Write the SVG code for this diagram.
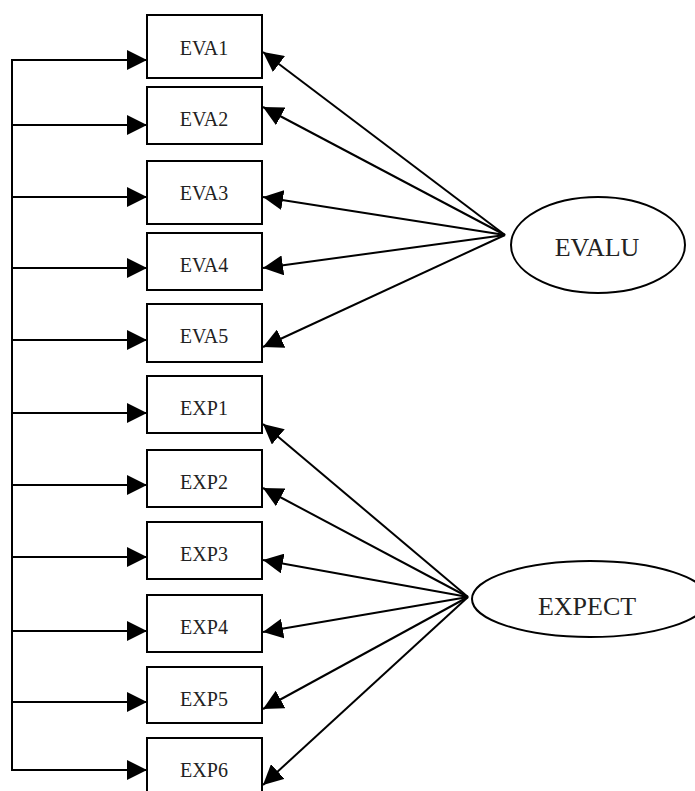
<svg xmlns="http://www.w3.org/2000/svg" width="695" height="791" viewBox="0 0 695 791">
  <style>
    .box { fill: #ffffff; stroke: #000000; stroke-width: 2; }
    .lat { fill: #ffffff; stroke: #000000; stroke-width: 2; }
    .lbl { font-family: "Liberation Serif", "DejaVu Serif", serif; font-size: 20px; fill: #222222; text-anchor: middle; }
    .big { font-family: "Liberation Serif", "DejaVu Serif", serif; font-size: 26px; fill: #222222; text-anchor: middle; }
    .edge { fill: none; stroke: #000000; stroke-width: 2; }
  </style>
  <defs>
    <marker id="arrow" markerUnits="userSpaceOnUse" markerWidth="20" markerHeight="20" refX="20" refY="10" orient="auto">
      <path d="M0,0 L20,10 L0,20 z" fill="#000000"/>
    </marker>
  </defs>
  <rect width="695" height="791" fill="#ffffff"/>

  <!-- connectors -->
  <g id="connectors">
    <!-- error spine on the left -->
    <line class="edge" x1="12" y1="59" x2="12" y2="771"/>
    <line class="edge" x1="12" y1="60" x2="147" y2="60" marker-end="url(#arrow)"/>
    <line class="edge" x1="12" y1="125" x2="147" y2="125" marker-end="url(#arrow)"/>
    <line class="edge" x1="12" y1="197" x2="147" y2="197" marker-end="url(#arrow)"/>
    <line class="edge" x1="12" y1="268" x2="147" y2="268" marker-end="url(#arrow)"/>
    <line class="edge" x1="12" y1="340" x2="147" y2="340" marker-end="url(#arrow)"/>
    <line class="edge" x1="12" y1="413" x2="147" y2="413" marker-end="url(#arrow)"/>
    <line class="edge" x1="12" y1="485" x2="147" y2="485" marker-end="url(#arrow)"/>
    <line class="edge" x1="12" y1="557" x2="147" y2="557" marker-end="url(#arrow)"/>
    <line class="edge" x1="12" y1="631" x2="147" y2="631" marker-end="url(#arrow)"/>
    <line class="edge" x1="12" y1="702" x2="147" y2="702" marker-end="url(#arrow)"/>
    <line class="edge" x1="12" y1="770" x2="147" y2="770" marker-end="url(#arrow)"/>

    <!-- EVALU loadings -->
    <line class="edge" x1="505" y1="235" x2="263" y2="52" marker-end="url(#arrow)"/>
    <line class="edge" x1="505" y1="235" x2="263" y2="107" marker-end="url(#arrow)"/>
    <line class="edge" x1="505" y1="235" x2="263" y2="197" marker-end="url(#arrow)"/>
    <line class="edge" x1="505" y1="235" x2="263" y2="268" marker-end="url(#arrow)"/>
    <line class="edge" x1="505" y1="235" x2="263" y2="347" marker-end="url(#arrow)"/>

    <!-- EXPECT loadings -->
    <line class="edge" x1="468" y1="597" x2="263" y2="424" marker-end="url(#arrow)"/>
    <line class="edge" x1="468" y1="597" x2="263" y2="488" marker-end="url(#arrow)"/>
    <line class="edge" x1="468" y1="597" x2="263" y2="560" marker-end="url(#arrow)"/>
    <line class="edge" x1="468" y1="597" x2="263" y2="632" marker-end="url(#arrow)"/>
    <line class="edge" x1="468" y1="597" x2="263" y2="709" marker-end="url(#arrow)"/>
    <line class="edge" x1="468" y1="597" x2="263" y2="785" marker-end="url(#arrow)"/>
  </g>

  <!-- observed indicators -->
  <g id="EVA1"><rect class="box" x="147" y="15" width="115" height="63"/><text class="lbl" x="204" y="55">EVA1</text></g>
  <g id="EVA2"><rect class="box" x="147" y="87" width="115" height="57"/><text class="lbl" x="204" y="126">EVA2</text></g>
  <g id="EVA3"><rect class="box" x="147" y="161" width="115" height="63"/><text class="lbl" x="204" y="200">EVA3</text></g>
  <g id="EVA4"><rect class="box" x="147" y="233" width="115" height="57"/><text class="lbl" x="204" y="272">EVA4</text></g>
  <g id="EVA5"><rect class="box" x="147" y="304" width="115" height="58"/><text class="lbl" x="204" y="343">EVA5</text></g>
  <g id="EXP1"><rect class="box" x="147" y="376" width="115" height="57"/><text class="lbl" x="204" y="415">EXP1</text></g>
  <g id="EXP2"><rect class="box" x="147" y="450" width="115" height="57"/><text class="lbl" x="204" y="489">EXP2</text></g>
  <g id="EXP3"><rect class="box" x="147" y="522" width="115" height="57"/><text class="lbl" x="204" y="561">EXP3</text></g>
  <g id="EXP4"><rect class="box" x="147" y="595" width="115" height="57"/><text class="lbl" x="204" y="634">EXP4</text></g>
  <g id="EXP5"><rect class="box" x="147" y="667" width="115" height="56"/><text class="lbl" x="204" y="706">EXP5</text></g>
  <g id="EXP6"><rect class="box" x="147" y="738" width="115" height="60"/><text class="lbl" x="204" y="777">EXP6</text></g>

  <!-- latent factors -->
  <g id="EVALU"><ellipse class="lat" cx="598" cy="245" rx="87" ry="48"/><text class="big" x="597" y="256">EVALU</text></g>
  <g id="EXPECT"><ellipse class="lat" cx="590" cy="599" rx="118" ry="38"/><text class="big" x="587" y="615">EXPECT</text></g>
</svg>
